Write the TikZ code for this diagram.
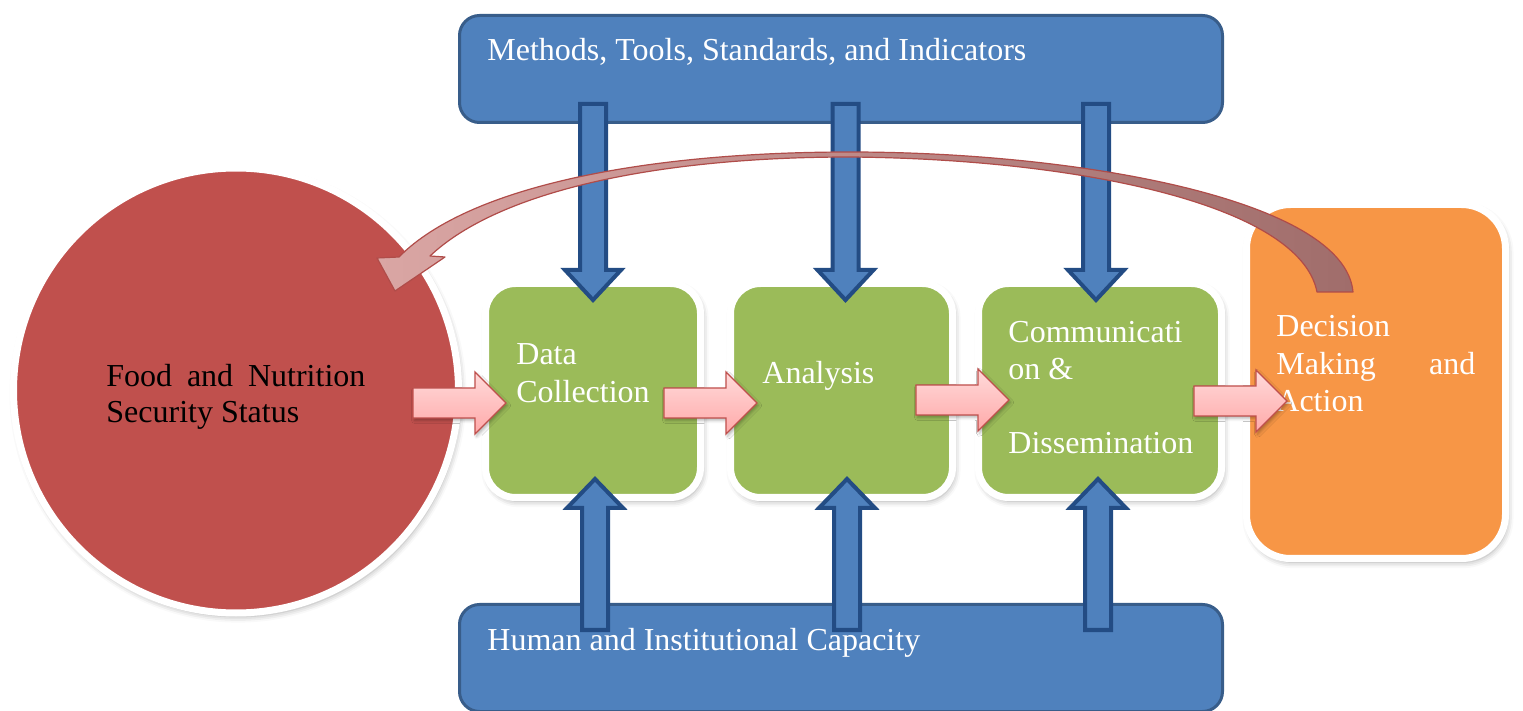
\documentclass[tikz,border=0pt]{standalone}
\usepackage{fontspec}
\setmainfont{Liberation Serif}
\usetikzlibrary{shadows.blur}

\definecolor{boxblue}{HTML}{4F81BD}
\definecolor{boxblueline}{HTML}{385D8A}
\definecolor{feedline}{HTML}{234C84}
\definecolor{statusred}{HTML}{C0504D}
\definecolor{stepgreen}{HTML}{9BBB59}
\definecolor{actionorange}{HTML}{F79646}
\definecolor{flowtop}{HTML}{FFDADA}
\definecolor{flowbottom}{HTML}{FFA9A9}
\definecolor{flowline}{HTML}{C0504D}
\definecolor{loopleft}{HTML}{DAA6A4}
\definecolor{loopright}{HTML}{A06D6B}
\definecolor{loopline}{HTML}{B04C49}

\newcommand\labelfont[1]{\fontsize{16pt}{#1}\selectfont}

\begin{document}
\begin{tikzpicture}[x=0.5pt,y=-0.5pt,
  softshadow/.style={blur shadow={shadow xshift=1pt, shadow yshift=-1.8pt,
      shadow blur radius=3pt, shadow opacity=35}},
  bandbox/.style={rectangle, rounded corners=10pt, fill=boxblue, draw=boxblueline,
      line width=1.5pt, minimum width=381.5pt, minimum height=53.5pt, inner sep=0pt},
  stagebox/.style={rectangle, rounded corners=15pt, fill=stepgreen, draw=white,
      line width=3.5pt, minimum height=107pt, inner sep=0pt, softshadow},
  actionbox/.style={rectangle, rounded corners=22pt, fill=actionorange, draw=white,
      line width=3.5pt, minimum width=129.5pt, minimum height=177pt, inner sep=0pt, softshadow},
  statusdisc/.style={circle, fill=statusred, draw=white, line width=3.5pt,
      minimum size=222.5pt, inner sep=0pt, softshadow},
  whitetext/.style={text=white, inner sep=0pt, anchor=base west},
  darktext/.style={text=black, inner sep=0pt, anchor=base west},
  feedarrow/.style={fill=boxblue, draw=feedline, line width=2pt, line join=miter},
  flowarrow/.style={top color=flowtop, bottom color=flowbottom, draw=flowline,
      line width=0.7pt, line join=miter,
      blur shadow={shadow xshift=0.8pt, shadow yshift=-1.2pt, shadow blur radius=1.5pt, shadow opacity=30}},
  looparrow/.style={left color=loopleft, right color=loopright, draw=loopline,
      line width=0.6pt, line join=round},
  pics/downfeed/.style={code={
      \path[feedarrow] (-13,0) -- (13,0) -- (13,166) -- (28,166) -- (0,196)
          -- (-28,166) -- (-13,166) -- cycle;}},
  pics/upfeed/.style={code={
      \path[feedarrow] (-13,0) -- (13,0) -- (13,-122) -- (28,-122) -- (0,-151)
          -- (-28,-122) -- (-13,-122) -- cycle;}},
  pics/flow/.style={code={
      \path[flowarrow] (0,-15) -- (62,-15) -- (62,-31) -- (93,0) -- (62,31)
          -- (62,15) -- (0,15) -- cycle;}},
]
\useasboundingbox (0,0) rectangle (1523,711);
\clip (0,0) rectangle (1523,711);

% framework bands
\node[bandbox] (mtsi) at (841,69) {};
\node[bandbox] (hic) at (841,658) {};
\node[whitetext] (mtsitext) at (487,61) {\labelfont{19pt}Methods, Tools, Standards, and Indicators};
\node[whitetext] (hictext) at (487,650) {\labelfont{19pt}Human and Institutional Capacity};

% status disc and process stages
\node[statusdisc] (fnss) at (236,390.5) {};
\node[stagebox, minimum width=107.5pt] (dc) at (593,390.5) {};
\node[stagebox, minimum width=111pt] (an) at (841.5,390.5) {};
\node[stagebox, minimum width=121.5pt] (cd) at (1100,390.5) {};
\node[actionbox] (dma) at (1376,381.5) {};

% labels
\node[darktext] (fnsstext) at (106,387)
  {\parbox[t]{129.5pt}{\labelfont{18pt}\makebox[129.5pt][s]{Food and Nutrition}\\Security Status}};
\node[whitetext] (dctext) at (516,365)
  {\parbox[t]{90pt}{\labelfont{19pt}Data\\Collection}};
\node[whitetext] (antext) at (762,384) {\labelfont{19pt}Analysis};
\node[whitetext] (cdtext) at (1008,343)
  {\parbox[t]{100pt}{\labelfont{18.5pt}Communicati\\on \&\\\mbox{}\\Dissemination}};
\node[whitetext] (dmatext) at (1276,337)
  {\parbox[t]{99.5pt}{\labelfont{18.75pt}Decision\\\makebox[99.5pt][s]{Making and}\\Action}};

% inputs from the framework bands
\pic (down1) at (593,104) {downfeed};
\pic (down2) at (845.5,104) {downfeed};
\pic (down3) at (1096,104) {downfeed};
\pic (up1) at (595,630) {upfeed};
\pic (up2) at (847,630) {upfeed};
\pic (up3) at (1098,630) {upfeed};

% main flow
\pic (flow1) at (413,403) {flow};
\pic (flow2) at (664,403) {flow};
\pic (flow3) at (916,400) {flow};
\pic (flow4) at (1194,401) {flow};

% feedback loop from action back to status
\path[looparrow] (395,291) -- (445,257) -- (430,256)
  .. controls (500,190) and (660,157) .. (850,157)
  .. controls (1080,159) and (1300,205) .. (1317,292)
  -- (1353,292)
  .. controls (1345,200) and (1080,152) .. (850,152)
  .. controls (650,152) and (470,185) .. (399,257)
  -- (377,258) -- cycle;
\end{tikzpicture}
\end{document}
